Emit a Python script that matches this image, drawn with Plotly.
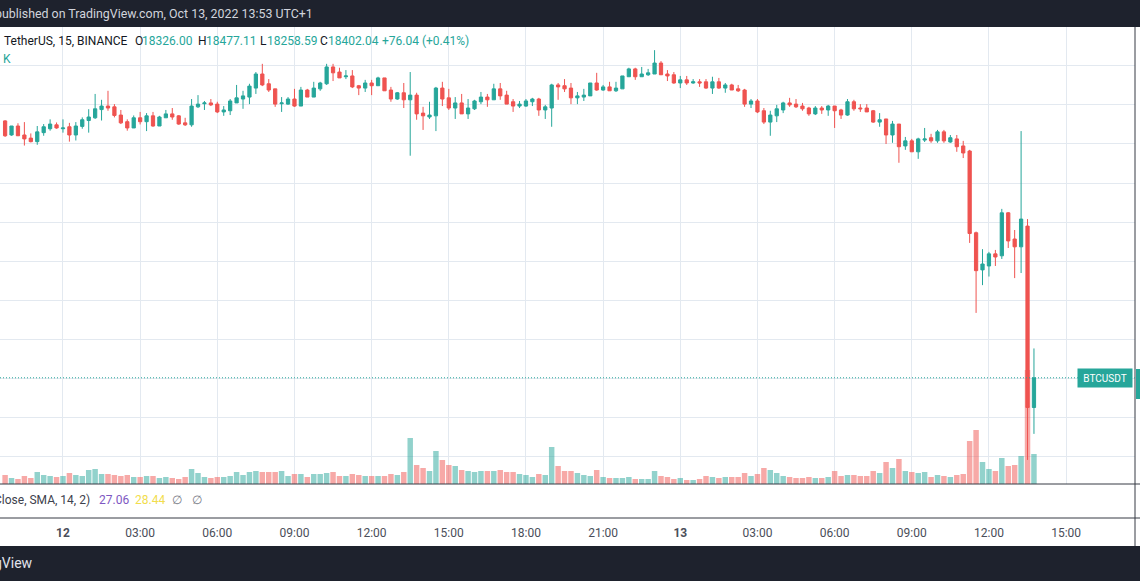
import plotly.graph_objects as go
import pandas as pd

# BTCUSDT 15m, Binance - 11 Oct 21:45 to 13 Oct 13:45 (UTC+1)
open_ = [19059, 19023, 19046, 19023, 19015, 19006, 19029, 19039, 19049, 19039,
         19044, 19023, 19045, 19060, 19067, 19088, 19097, 19095, 19074, 19057,
         19041, 19067, 19057, 19072, 19046, 19067, 19077, 19072, 19054, 19049,
         19095, 19103, 19105, 19102, 19082, 19085, 19105, 19115, 19120, 19143,
         19179, 19154, 19141, 19103, 19102, 19115, 19097, 19138, 19120, 19141,
         19154, 19197, 19184, 19172, 19174, 19149, 19143, 19156, 19149, 19169,
         19138, 19115, 19131, 19113, 19125, 19079, 19069, 19072, 19143, 19118,
         19092, 19105, 19077, 19090, 19108, 19120, 19113, 19141, 19125, 19108,
         19097, 19097, 19108, 19115, 19087, 19092, 19151, 19149, 19143, 19118,
         19120, 19123, 19156, 19138, 19146, 19136, 19141, 19172, 19192, 19172,
         19177, 19179, 19207, 19179, 19177, 19156, 19164, 19156, 19159, 19159,
         19143, 19159, 19143, 19151, 19141, 19138, 19102, 19110, 19085, 19056,
         19072, 19087, 19105, 19102, 19097, 19092, 19077, 19092, 19087, 19097,
         19087, 19074, 19108, 19092, 19092, 19085, 19056, 19064, 19023, 19051,
         18995, 19008, 18980, 19010, 19016, 19008, 19031, 19005, 19013, 18995,
         18982, 18773, 18678, 18688, 18719, 18714, 18824, 18757, 18737, 18790,
         18326.00]
high = [19061, 19046, 19053, 19056, 19027, 19046, 19051, 19063, 19055, 19063,
        19054, 19056, 19068, 19089, 19128, 19113, 19136, 19102, 19087, 19063,
        19073, 19082, 19079, 19082, 19072, 19087, 19092, 19074, 19067, 19115,
        19125, 19110, 19115, 19108, 19097, 19115, 19151, 19136, 19154, 19184,
        19205, 19166, 19141, 19120, 19120, 19141, 19146, 19141, 19159, 19159,
        19205, 19205, 19195, 19189, 19189, 19151, 19164, 19164, 19172, 19169,
        19146, 19133, 19156, 19184, 19131, 19095, 19108, 19146, 19159, 19141,
        19120, 19128, 19115, 19113, 19133, 19128, 19154, 19156, 19136, 19115,
        19110, 19115, 19118, 19118, 19100, 19154, 19156, 19166, 19156, 19133,
        19141, 19156, 19182, 19151, 19159, 19159, 19174, 19195, 19195, 19197,
        19192, 19240, 19212, 19189, 19184, 19174, 19174, 19166, 19166, 19166,
        19172, 19169, 19156, 19154, 19151, 19141, 19115, 19115, 19092, 19085,
        19100, 19108, 19118, 19115, 19105, 19095, 19097, 19097, 19100, 19097,
        19090, 19115, 19113, 19102, 19102, 19087, 19079, 19064, 19059, 19051,
        19018, 19013, 19016, 19041, 19026, 19036, 19036, 19023, 19023, 19008,
        18985, 18776, 18731, 18724, 18729, 18834, 18826, 18780, 19033, 18808,
        18477.11]
low = [19018, 19021, 19021, 18996, 19004, 18998, 19021, 19034, 19039, 19029,
       19006, 19009, 19039, 19029, 19064, 19060, 19085, 19068, 19051, 19034,
       19041, 19050, 19033, 19044, 19046, 19067, 19062, 19049, 19046, 19044,
       19092, 19087, 19097, 19079, 19072, 19074, 19105, 19090, 19102, 19128,
       19148, 19133, 19095, 19082, 19100, 19095, 19097, 19120, 19120, 19136,
       19151, 19161, 19169, 19166, 19143, 19125, 19133, 19125, 19149, 19136,
       19108, 19113, 19092, 18970, 19062, 19036, 19064, 19033, 19097, 19087,
       19064, 19077, 19064, 19087, 19102, 19095, 19113, 19113, 19102, 19082,
       19092, 19095, 19097, 19072, 19064, 19044, 19113, 19133, 19102, 19102,
       19110, 19123, 19136, 19136, 19136, 19133, 19141, 19172, 19164, 19172,
       19174, 19179, 19177, 19161, 19154, 19143, 19151, 19154, 19146, 19141,
       19128, 19141, 19131, 19138, 19133, 19095, 19092, 19079, 19051, 19021,
       19056, 19079, 19095, 19092, 19085, 19072, 19074, 19077, 19072, 19041,
       19064, 19072, 19085, 19082, 19082, 19054, 19044, 19000, 19003, 18952,
       18985, 18980, 18962, 19005, 19003, 19003, 19003, 19003, 18980, 18964,
       18747, 18568, 18639, 18661, 18688, 18706, 18734, 18657, 18670, 18192,
       18258.59]
close = [19021, 19046, 19021, 19013, 19006, 19031, 19044, 19051, 19041, 19041,
         19023, 19046, 19062, 19069, 19090, 19097, 19092, 19073, 19054, 19041,
         19067, 19057, 19072, 19046, 19069, 19077, 19069, 19051, 19049, 19097,
         19102, 19105, 19100, 19082, 19087, 19110, 19118, 19123, 19148, 19179,
         19151, 19138, 19102, 19105, 19115, 19097, 19138, 19120, 19143, 19156,
         19197, 19182, 19169, 19174, 19146, 19143, 19156, 19149, 19169, 19136,
         19115, 19131, 19113, 19125, 19077, 19072, 19074, 19143, 19115, 19092,
         19105, 19077, 19092, 19110, 19120, 19113, 19141, 19123, 19102, 19097,
         19102, 19110, 19115, 19087, 19095, 19151, 19146, 19141, 19118, 19123,
         19125, 19156, 19138, 19146, 19136, 19143, 19174, 19192, 19172, 19179,
         19182, 19207, 19177, 19174, 19156, 19164, 19156, 19159, 19156, 19143,
         19159, 19143, 19151, 19138, 19136, 19102, 19110, 19082, 19056, 19074,
         19090, 19105, 19100, 19095, 19090, 19077, 19092, 19087, 19097, 19085,
         19074, 19108, 19090, 19090, 19082, 19056, 19062, 19023, 19051, 18993,
         19008, 18980, 19013, 19013, 19008, 19031, 19008, 19016, 18993, 18977,
         18771, 18676, 18693, 18719, 18711, 18824, 18752, 18737, 18808, 18326,
         18402.04]
volume_k = [9, 6, 5, 8, 6, 12, 9, 8, 7, 8,
            11, 9, 8, 14, 15, 10, 10, 9, 8, 9,
            7, 7, 8, 8, 6, 7, 6, 5, 7, 15,
            11, 7, 6, 7, 7, 8, 12, 9, 12, 13,
            12, 12, 12, 13, 8, 10, 10, 7, 10, 10,
            11, 12, 8, 8, 10, 9, 8, 8, 8, 8,
            10, 9, 12, 46, 19, 16, 13, 33, 24, 19,
            18, 14, 13, 12, 13, 13, 13, 14, 12, 12,
            10, 9, 7, 10, 9, 37, 18, 13, 13, 11,
            9, 8, 14, 7, 6, 6, 6, 7, 5, 5,
            5, 13, 8, 7, 5, 6, 4, 4, 5, 8,
            7, 6, 7, 7, 7, 11, 8, 10, 16, 14,
            11, 8, 7, 6, 6, 7, 6, 6, 7, 13,
            8, 9, 9, 8, 8, 13, 11, 22, 16, 25,
            13, 12, 11, 12, 7, 9, 8, 7, 9, 10,
            43, 54, 22, 15, 13, 26, 18, 19, 28, 114,
            30]

tick_times = ["2022-10-12 00:00", "2022-10-12 03:00", "2022-10-12 06:00",
              "2022-10-12 09:00", "2022-10-12 12:00", "2022-10-12 15:00",
              "2022-10-12 18:00", "2022-10-12 21:00", "2022-10-13 00:00",
              "2022-10-13 03:00", "2022-10-13 06:00", "2022-10-13 09:00",
              "2022-10-13 12:00", "2022-10-13 15:00"]
tick_text = ["<b>12</b>", "03:00", "06:00", "09:00", "12:00", "15:00", "18:00",
             "21:00", "<b>13</b>", "03:00", "06:00", "09:00", "12:00", "15:00"]

last_price = 18402.04

times = pd.date_range("2022-10-11 21:45", periods=len(close), freq="15min")

UP = "#26a69a"
DOWN = "#ef5350"
GRID = "#e3e9f0"
DARK = "#1e222d"
SEP = "#363a45"
FONT = "Roboto"

W, H = 1140, 581
PW = 1135  # width of the chart pane, price scale cut off at the right


def px(x):
    return x / PW


def py(y):
    return 1 - y / H


vol_colors = ["rgba(38,166,154,0.5)" if c >= o else "rgba(239,83,80,0.5)"
              for o, c in zip(open_, close)]

fig = go.Figure()

# volume underneath the candles
fig.add_trace(go.Bar(x=times, y=volume_k, marker_color=vol_colors,
                     marker_line_width=0, width=765000,
                     xaxis="x", yaxis="y", hoverinfo="skip"))

fig.add_trace(go.Candlestick(
    x=times, open=open_, high=high, low=low, close=close,
    xaxis="x", yaxis="y2", whiskerwidth=0,
    increasing=dict(line=dict(color=UP, width=1), fillcolor=UP),
    decreasing=dict(line=dict(color=DOWN, width=1), fillcolor=DOWN),
))

# empty indicator pane (only carries the time scale)
fig.add_trace(go.Scatter(x=times[:1], y=[0], xaxis="x2", yaxis="y3",
                         mode="markers", marker=dict(opacity=0),
                         hoverinfo="skip"))

x_range = ["2022-10-11 21:33:06", "2022-10-13 17:40:42"]

fig.update_layout(
    width=W, height=H,
    margin=dict(l=0, r=W - PW, t=0, b=0),
    paper_bgcolor="white", plot_bgcolor="white",
    showlegend=False, boxgap=0.28,
    font=dict(family=FONT, color="#131722"),
    xaxis=dict(type="date", range=x_range, domain=[0, 1], anchor="y",
               showgrid=True, gridcolor=GRID, gridwidth=1,
               tickvals=tick_times, showticklabels=False, ticks="",
               showline=False, zeroline=False,
               rangeslider=dict(visible=False)),
    xaxis2=dict(type="date", range=x_range, domain=[0, 1], anchor="y3",
                showgrid=False, tickvals=tick_times, ticktext=tick_text,
                tickfont=dict(family=FONT, size=12, color="#4a4e59"),
                ticks="", showline=False, zeroline=False,
                ticklabelstandoff=6),
    yaxis=dict(domain=[py(484), py(27)], range=[0, 457], visible=False,
               fixedrange=True),
    yaxis2=dict(overlaying="y", anchor="x", side="right",
                range=[18130.4, 19299.2], tick0=0, dtick=100,
                showgrid=True, gridcolor=GRID, gridwidth=1,
                showticklabels=False, ticks="", zeroline=False,
                showline=False),
    yaxis3=dict(domain=[py(518), py(484)], range=[0, 1], showgrid=False,
                showticklabels=False, zeroline=False, showline=False),
)

shapes = [
    # dark header and footer bands of the snapshot
    dict(type="rect", xref="paper", yref="paper", x0=-0.01, x1=1.01,
         y0=py(27), y1=1.01, fillcolor=DARK, line_width=0),
    dict(type="rect", xref="paper", yref="paper", x0=-0.01, x1=1.01,
         y0=-0.01, y1=py(546), fillcolor=DARK, line_width=0),
    # pane separators
    dict(type="line", xref="paper", yref="paper", x0=0, x1=1.01,
         y0=py(484), y1=py(484), line=dict(color=SEP, width=1)),
    dict(type="line", xref="paper", yref="paper", x0=0, x1=1.01,
         y0=py(518), y1=py(518), line=dict(color=SEP, width=1)),
    dict(type="line", xref="paper", yref="paper", x0=1, x1=1,
         y0=py(546), y1=py(27), line=dict(color=SEP, width=1)),
    # last price line
    dict(type="line", xref="paper", yref="y2", x0=0, x1=1,
         y0=last_price, y1=last_price,
         line=dict(color=UP, width=1, dash="1px,2px")),
    # price scale label, mostly cut off
    dict(type="rect", xref="paper", yref="paper", x0=px(1136), x1=1.01,
         y0=py(399), y1=py(369), fillcolor=UP, line_width=0),
]
fig.update_layout(shapes=shapes)


def note(x, y, text, color="#131722", size=12, anchor="left", **kw):
    fig.add_annotation(xref="paper", yref="paper", x=px(x), y=py(y),
                       text=text, showarrow=False, xanchor=anchor,
                       yanchor="middle", borderpad=0,
                       font=dict(family=FONT, size=size, color=color), **kw)


note(-6, 14, "published on TradingView.com, Oct 13, 2022 13:53 UTC+1",
     color="#d1d4dc", size=12.4)
note(34, 563, "TradingView", color="#e0e3eb", size=14, anchor="right")

# symbol legend
note(3, 41, "TetherUS, 15, BINANCE")
note(134, 41, "O")
note(141, 41, "18326.00", color=UP)
note(197, 41, "H")
note(205, 41, "18477.11", color=UP)
note(259, 41, "L")
note(266, 41, "18258.59", color=UP)
note(319, 41, "C")
note(327, 41, "18402.04", color=UP)
note(381, 41, "+76.04 (+0.41%)", color=UP)
note(2, 59, "K", color=UP)

# indicator pane legend
note(91, 500, "Close, SMA, 14, 2)", color="#3d414c", anchor="right")
note(98, 500, "27.06", color="#7e57c2")
note(134, 500, "28.44", color="#f2dd4c")
note(171, 500, "∅", color="#787b86")
note(191, 500, "∅", color="#787b86")

fig.add_annotation(xref="paper", yref="y2", x=px(1133), y=last_price,
                   xanchor="right", yanchor="middle", text="BTCUSDT",
                   showarrow=False, bgcolor=UP, width=50, height=14,
                   borderpad=2, font=dict(family=FONT, size=10, color="white"))

fig.write_html("out.html", config={"displayModeBar": False},
               post_script="document.body.style.margin='0';")
